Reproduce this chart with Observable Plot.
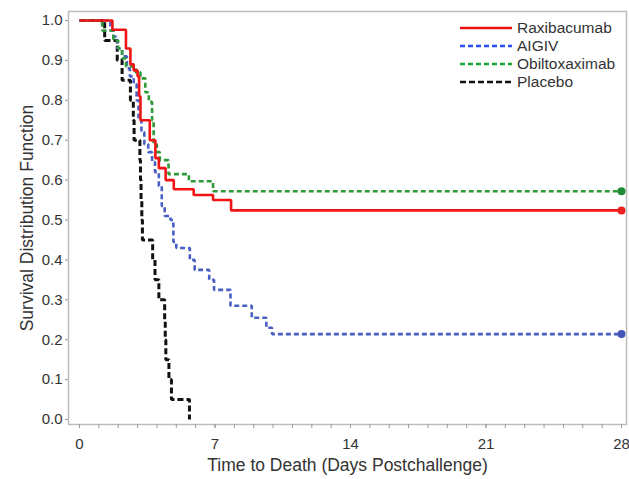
<!DOCTYPE html>
<html>
<head>
<meta charset="utf-8">
<script src="https://cdn.jsdelivr.net/npm/d3@7"></script>
<script src="https://cdn.jsdelivr.net/npm/@observablehq/plot@0.6"></script>
<style>
  html, body { margin: 0; padding: 0; background: #fff; }
  #wrap { position: relative; width: 629px; height: 479px; font-family: Arial, "Liberation Sans", sans-serif; }
  #legend { position: absolute; left: 460px; top: 19px; font-size: 15.5px; color: #333; }
  #legend .row { display: flex; align-items: center; height: 18px; }
  #legend svg { margin-right: 5px; }
</style>
</head>
<body>
<div id="wrap"><div id="legend"></div></div>
<script>
// ---- data ----
const seriesNames = ["Raxibacumab", "AIGIV", "Obiltoxaximab", "Placebo"];

const raxDays = [0, 1.7, 2.4, 2.63, 2.8, 3.0, 3.08, 3.15, 3.63, 3.92, 4.1, 4.45, 4.87, 5.9, 6.9, 7.83, 28];
const raxSurv = [1, 0.977, 0.93, 0.89, 0.875, 0.86, 0.81, 0.75, 0.70, 0.655, 0.63, 0.60, 0.577, 0.5625, 0.55, 0.524, 0.524];

const aigivDays = [0, 1.6, 1.75, 1.95, 2.2, 2.45, 2.6, 2.8, 2.95, 3.05, 3.2, 3.35, 3.55, 3.75, 3.9, 4.1, 4.25, 4.4, 4.7, 4.85, 5.0, 5.7, 5.95, 6.7, 6.95, 7.8, 8.9, 9.65, 9.95, 28];
const aigivSurv = [1, 0.975, 0.96, 0.93, 0.91, 0.88, 0.86, 0.84, 0.80, 0.75, 0.72, 0.69, 0.67, 0.645, 0.62, 0.585, 0.535, 0.51, 0.50, 0.445, 0.43, 0.40, 0.375, 0.35, 0.325, 0.285, 0.255, 0.23, 0.214, 0.214];

const oblDays = [0, 1.17, 1.75, 2.0, 2.2, 2.4, 2.9, 3.15, 3.4, 3.58, 3.75, 3.83, 4.0, 4.15, 4.6, 5.65, 6.9, 28];
const oblSurv = [1, 0.975, 0.95, 0.93, 0.905, 0.885, 0.87, 0.855, 0.82, 0.796, 0.75, 0.69, 0.67, 0.65, 0.615, 0.597, 0.572, 0.572];

const placDays = [0, 1.3, 1.95, 2.2, 2.63, 2.78, 2.82, 3.12, 3.15, 3.18, 3.22, 3.25, 3.78, 3.9, 4.1, 4.4, 4.43, 4.46, 4.62, 4.75, 5.68];
const placSurv = [1, 0.95, 0.9, 0.85, 0.8, 0.75, 0.7, 0.65, 0.6, 0.55, 0.5, 0.45, 0.4, 0.35, 0.3, 0.25, 0.2, 0.15, 0.1, 0.05, 0];

const xMinorTicks = d3.range(0, 29, 1);
const xTickLabels = [0, 7, 14, 21, 28];
const yTicks = [0, 0.1, 0.2, 0.3, 0.4, 0.5, 0.6, 0.7, 0.8, 0.9, 1.0];

// ---- styles ----
const styles = {
  "Raxibacumab":   {stroke: "#f01414", dash: null,  width: 2.6, legend: "#ee1111"},
  "AIGIV":         {stroke: "#4a5fc4", dash: "5,3", width: 2.6, legend: "#2d4ef0"},
  "Obiltoxaximab": {stroke: "#2e9a38", dash: "5,3", width: 2.6, legend: "#1aa83a"},
  "Placebo":       {stroke: "#111111", dash: "6,3", width: 3,   legend: "#111111"}
};

const toRows = (name, days, surv) => days.map((d, i) => ({series: name, day: d, surv: surv[i]}));
const rows = {
  "Raxibacumab": toRows("Raxibacumab", raxDays, raxSurv),
  "AIGIV": toRows("AIGIV", aigivDays, aigivSurv),
  "Obiltoxaximab": toRows("Obiltoxaximab", oblDays, oblSurv),
  "Placebo": toRows("Placebo", placDays, placSurv)
};
const endDots = ["Obiltoxaximab", "Raxibacumab", "AIGIV"].map(n => rows[n][rows[n].length - 1]);
const dotColors = {"Raxibacumab": "#ee2020", "AIGIV": "#4456b8", "Obiltoxaximab": "#1f8a35"};

const lineMarks = ["Placebo", "AIGIV", "Obiltoxaximab", "Raxibacumab"].map(n =>
  Plot.line(rows[n], {
    x: "day", y: "surv", curve: "step-after",
    stroke: styles[n].stroke, strokeWidth: styles[n].width,
    strokeDasharray: styles[n].dash, strokeLinejoin: "miter", strokeLinecap: "butt"
  })
);

const chart = Plot.plot({
  width: 629,
  height: 479,
  marginLeft: 68,
  marginRight: 3,
  marginTop: 11,
  marginBottom: 55,
  insetLeft: 11,
  insetRight: 5,
  insetTop: 9,
  insetBottom: 5,
  style: {fontFamily: "Arial, 'Liberation Sans', sans-serif", background: "#fff"},
  x: {domain: [0, 28]},
  y: {domain: [0, 1]},
  marks: [
    Plot.frame({stroke: "#bdbdbd", strokeWidth: 1.5}),
    Plot.axisX({ticks: xMinorTicks, tickSize: 4, tickFormat: () => "", stroke: "#9a9a9a", label: null}),
    Plot.axisX({ticks: xTickLabels, tickSize: 4, tickPadding: 10, fontSize: 15, fill: "#333", stroke: "#9a9a9a", label: null}),
    Plot.axisY({ticks: yTicks, tickSize: 3, tickPadding: 3, tickFormat: d3.format(".1f"), fontSize: 15, fill: "#333", stroke: "#9a9a9a", label: null}),
    Plot.text(["Time to Death (Days Postchallenge)"], {frameAnchor: "bottom", dy: 46, fontSize: 17.5, fill: "#333"}),
    Plot.text(["Survival Distribution Function"], {frameAnchor: "left", textAnchor: "middle", dx: -41, rotate: -90, fontSize: 17.5, fill: "#333"}),
    ...lineMarks,
    Plot.dot(endDots, {x: "day", y: "surv", r: 4, fill: d => dotColors[d.series], stroke: "none"})
  ]
});

const wrap = document.getElementById("wrap");
wrap.insertBefore(chart, wrap.firstChild);

// legend
const legend = document.getElementById("legend");
for (const n of seriesNames) {
  const s = styles[n];
  const row = document.createElement("div");
  row.className = "row";
  row.innerHTML = `<svg width="52" height="6"><line x1="0" x2="52" y1="3" y2="3" stroke="${s.legend}" stroke-width="2.5" ${s.dash ? `stroke-dasharray="${n === "Placebo" ? "6,3" : "5,3"}"` : ""}/></svg><span>${n}</span>`;
  legend.appendChild(row);
}
</script>
</body>
</html>
